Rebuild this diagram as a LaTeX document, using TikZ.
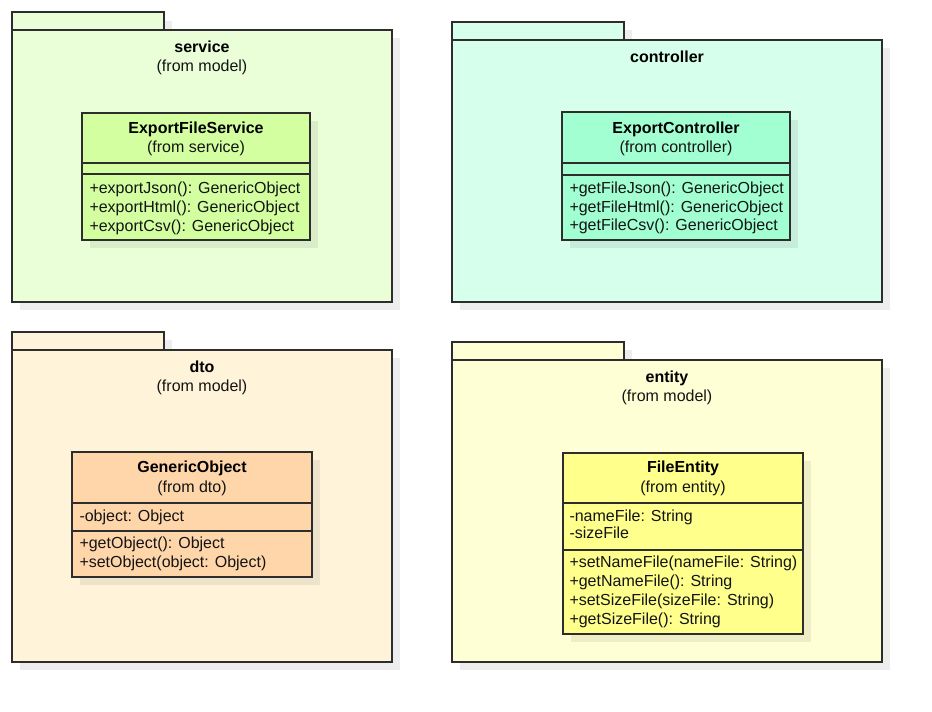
\documentclass[tikz,border=0pt]{standalone}
\usepackage{fontspec}
\setmainfont{Liberation Sans}

\tikzset{every picture/.style={line width=0.75pt}}
\tikzset{
  umltext/.style={inner sep=0pt, text height=8.6pt, text depth=0pt, font=\fontsize{12}{14}\selectfont, text={rgb, 255:red, 20; green, 20; blue, 20 }},
  pkgname/.style={umltext, font=\fontsize{12}{14}\selectfont\bfseries, text=black},
  member/.style={umltext, anchor=west},
  shade/.style={fill=black, fill opacity=0.07, draw opacity=0},
  outline/.style={draw={rgb, 255:red, 45; green, 45; blue, 45 }, line width=1.5pt}
}

\begin{document}
\begin{tikzpicture}[x=0.75pt,y=0.75pt,yscale=-1,xscale=1]
	\useasboundingbox (0,0) rectangle (932,712);

	%%% package service
	%Shape: Rectangle
	\draw [shade] (20,21) rectangle (172,38) ;
	\draw [shade] (20,38) rectangle (400,310) ;
	\draw [outline, fill={rgb, 255:red, 234; green, 255; blue, 216 } ] (12,12) rectangle (164,30) ;
	\draw [outline, fill={rgb, 255:red, 234; green, 255; blue, 216 } ] (12,30) rectangle (392,302) ;
	% Text Node
	\node [pkgname] (svcTitle) at (202,47) {service};
	\node [umltext] (svcFrom) at (202,66) {(from model)};
	%Shape: Rectangle (class)
	\draw [shade] (90,121) rectangle (318,248) ;
	\draw [outline, fill={rgb, 255:red, 211; green, 255; blue, 160 } ] (82,113) rectangle (310,240) ;
	\draw [outline] (82,163) -- (310,163) (82,174) -- (310,174) ;
	% Text Node
	\node [pkgname] (efsName) at (196,128) {ExportFileService};
	\node [umltext] (efsFrom) at (196,147) {(from service)};
	\node [member] (efsOpA) at (89,188) {+exportJson(): GenericObject};
	\node [member] (efsOpB) at (89,207) {+exportHtml(): GenericObject};
	\node [member] (efsOpC) at (89,226) {+exportCsv(): GenericObject};

	%%% package controller
	%Shape: Rectangle
	\draw [shade] (460,30) rectangle (632,48) ;
	\draw [shade] (460,48) rectangle (890,310) ;
	\draw [outline, fill={rgb, 255:red, 214; green, 255; blue, 236 } ] (452,22) rectangle (624,40) ;
	\draw [outline, fill={rgb, 255:red, 214; green, 255; blue, 236 } ] (452,40) rectangle (882,302) ;
	% Text Node
	\node [pkgname] (ctrlTitle) at (667,57) {controller};
	%Shape: Rectangle (class)
	\draw [shade] (570,120) rectangle (798,248) ;
	\draw [outline, fill={rgb, 255:red, 161; green, 255; blue, 210 } ] (562,112) rectangle (790,240) ;
	\draw [outline] (562,163) -- (790,163) (562,175) -- (790,175) ;
	% Text Node
	\node [pkgname] (ecName) at (676,128) {ExportController};
	\node [umltext] (ecFrom) at (676,147) {(from controller)};
	\node [member] (ecOpA) at (569,188) {+getFileJson(): GenericObject};
	\node [member] (ecOpB) at (569,207) {+getFileHtml(): GenericObject};
	\node [member] (ecOpC) at (569,225) {+getFileCsv(): GenericObject};

	%%% package dto
	%Shape: Rectangle
	\draw [shade] (20,340) rectangle (172,358) ;
	\draw [shade] (20,358) rectangle (400,670) ;
	\draw [outline, fill={rgb, 255:red, 255; green, 244; blue, 218 } ] (12,332) rectangle (164,350) ;
	\draw [outline, fill={rgb, 255:red, 255; green, 244; blue, 218 } ] (12,350) rectangle (392,662) ;
	% Text Node
	\node [pkgname] (dtoTitle) at (202,367) {dto};
	\node [umltext] (dtoFrom) at (202,386) {(from model)};
	%Shape: Rectangle (class)
	\draw [shade] (80,460) rectangle (320,585) ;
	\draw [outline, fill={rgb, 255:red, 255; green, 214; blue, 170 } ] (72,452) rectangle (312,577) ;
	\draw [outline] (72,503) -- (312,503) (72,531) -- (312,531) ;
	% Text Node
	\node [pkgname] (goName) at (192,467) {GenericObject};
	\node [umltext] (goFrom) at (192,487) {(from dto)};
	\node [member] (goAttr) at (79,516) {-object: Object};
	\node [member] (goOpA) at (79,543) {+getObject(): Object};
	\node [member] (goOpB) at (79,562) {+setObject(object: Object)};

	%%% package entity
	%Shape: Rectangle
	\draw [shade] (460,350) rectangle (632,368) ;
	\draw [shade] (460,368) rectangle (890,670) ;
	\draw [outline, fill={rgb, 255:red, 255; green, 255; blue, 214 } ] (452,342) rectangle (624,360) ;
	\draw [outline, fill={rgb, 255:red, 255; green, 255; blue, 214 } ] (452,360) rectangle (882,662) ;
	% Text Node
	\node [pkgname] (entTitle) at (667,377) {entity};
	\node [umltext] (entFrom) at (667,396) {(from model)};
	%Shape: Rectangle (class)
	\draw [shade] (571,461) rectangle (811,642) ;
	\draw [outline, fill={rgb, 255:red, 255; green, 255; blue, 140 } ] (563,453) rectangle (803,634) ;
	\draw [outline] (563,503) -- (803,503) (563,550) -- (803,550) ;
	% Text Node
	\node [pkgname] (feName) at (683,467) {FileEntity};
	\node [umltext] (feFrom) at (683,487) {(from entity)};
	\node [member] (feAttrA) at (569,516) {-nameFile: String};
	\node [member] (feAttrB) at (569,533) {-sizeFile};
	\node [member] (feOpA) at (569,562) {+setNameFile(nameFile: String)};
	\node [member] (feOpB) at (569,581) {+getNameFile(): String};
	\node [member] (feOpC) at (569,600) {+setSizeFile(sizeFile: String)};
	\node [member] (feOpD) at (569,619) {+getSizeFile(): String};

\end{tikzpicture}
\end{document}
